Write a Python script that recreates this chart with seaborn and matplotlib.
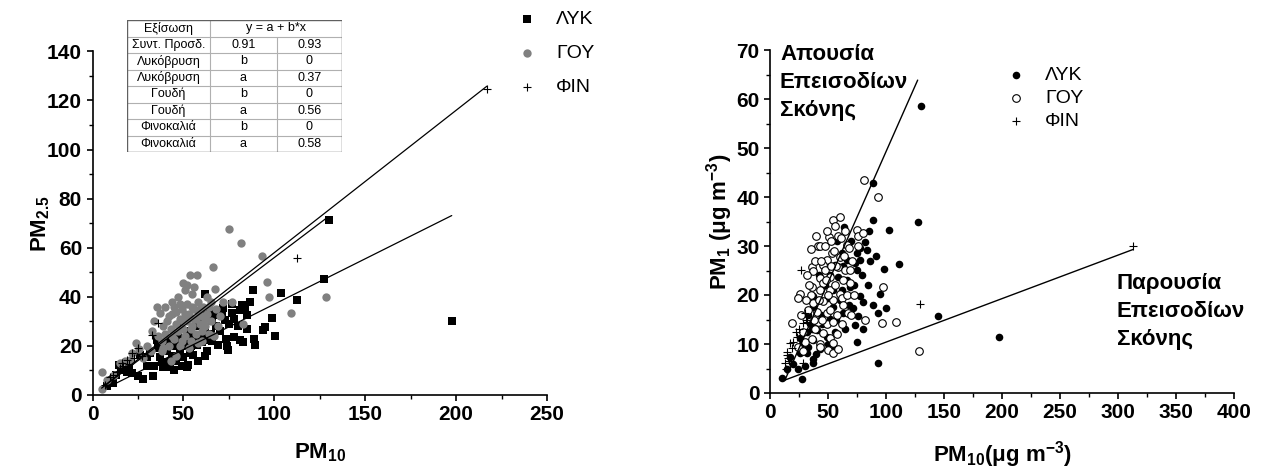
import matplotlib
matplotlib.use("Agg")
import matplotlib.pyplot as plt
import seaborn as sns
from matplotlib.ticker import MultipleLocator

# ---------------- data: left panel (PM2.5 vs PM10) ----------------
lyk_l_pm10 = [8, 10.5, 11.4, 13, 14.8, 16, 18.8, 20, 22, 25.2,
              27.9, 26.1, 29.8, 31.6, 33.5, 30, 35.3, 37.1, 38, 39,
              40.8, 42.6, 41, 44, 45, 46, 47.2, 48.1, 50, 49,
              51.8, 52.7, 53.6, 55.4, 54, 56, 57.3, 58, 62, 60,
              60.6, 61.9, 62, 63, 65, 66, 67, 68, 69.2, 69.2,
              70, 72, 72.9, 73.3, 74.7, 75, 76.6, 77.8, 78, 80,
              81.1, 81.1, 82, 82.6, 84, 84.8, 85.1, 86.6, 88.4, 88.8,
              93.6, 94.9, 98.7, 100.2, 103.7, 112.3, 127.3, 130.2, 197.6, 36,
              43, 47, 52, 55, 58, 45, 50, 62, 64, 66,
              40, 34, 57, 63, 71, 77, 53, 48, 74, 89.4]
lyk_l_pm25 = [3.5, 6.1, 4.8, 8, 12.2, 10, 9.5, 11, 9, 7.9,
              6.4, 16.3, 15.6, 17.0, 7.9, 12, 22.4, 15.6, 13.5, 11.5,
              13.6, 11.5, 18, 16, 20, 14, 21.7, 17.6, 15.6, 12,
              11.5, 12.2, 17, 16.3, 20, 24, 20.4, 14, 41, 21.7,
              23.8, 22.4, 27, 18, 25, 30, 33.3, 28, 20.4, 32.6,
              26, 35.3, 30.6, 22.7, 18.3, 29, 33.3, 23.8, 31, 28,
              34.6, 22.4, 36.7, 21.7, 34.5, 32.6, 26.9, 38.0, 42.8, 22.7,
              26.5, 27.8, 31.2, 24.0, 41.4, 38.7, 47.4, 71.3, 30.0, 19,
              22, 25, 26, 22, 30, 10, 20, 16, 33, 22,
              21, 12, 28, 35, 33, 37, 23, 28, 20, 20.5]

gou_l_pm10 = [5, 5, 8, 12, 15, 18, 20.6, 22, 23.9, 25.8,
              28, 30, 32, 35.3, 37.1, 36, 38, 39, 40, 41,
              42, 43, 44, 45, 45, 46, 47, 48, 48, 49,
              50, 50.9, 50, 51, 52, 52, 53, 53.6, 54, 55,
              55, 56, 57.3, 57, 58, 58, 59, 60, 60, 61,
              62, 62.8, 63, 64, 65, 65, 66.5, 67.5, 68, 69.2,
              70, 72, 75.3, 76.5, 81.5, 82.6, 93, 95.8, 97.1, 109.2,
              128.3, 33, 34, 38, 44, 47, 56, 40, 46, 53,
              60, 64, 67, 58, 43, 48, 55, 52, 42, 49,
              51, 54, 57, 59, 46, 44, 50, 56, 62, 39]
gou_l_pm25 = [2.4, 9.5, 6, 8, 13, 14, 14.3, 17, 21.1, 18.6,
              15, 20, 18, 35.7, 33.3, 24, 22, 28, 25, 30,
              20, 27, 33, 23, 36, 29, 26, 31, 20, 35,
              45.5, 42.8, 27, 24, 30, 37, 33, 48.9, 22, 28,
              36, 31, 48.9, 25, 34, 38, 29, 32, 22, 36,
              28, 40.1, 33, 25, 30, 38, 52.3, 43.3, 35, 28.2,
              32, 38, 67.6, 37.8, 62.1, 28.9, 56.6, 45.9, 40.1, 33.5,
              40.1, 26, 30, 18, 38, 40, 44, 36, 16, 19,
              26, 36, 24, 21, 14, 37, 41, 45, 32, 22,
              33, 27, 31, 35, 34, 24, 30, 35, 31, 19]

fin_l_pm10 = [7, 9.6, 11.4, 13.3, 15, 16, 17, 18.8, 20, 21.6,
              23, 25.2, 27, 32.6, 36.2, 112.3, 216.9]
fin_l_pm25 = [4, 7.5, 8.1, 9.5, 11, 13, 12, 14.3, 12.5, 17,
              15, 19, 16, 24.4, 29.2, 55.8, 124.5]

# fitted slopes (intercept fixed to 0), from the table
slope_lyk, slope_gou, slope_fin = 0.37, 0.56, 0.58

table_rows = [["Εξίσωση", "y = a + b*x", ""],
              ["Συντ. Προσδ.", "0.91", "0.93"],
              ["Λυκόβρυση", "b", "0"],
              ["Λυκόβρυση", "a", "0.37"],
              ["Γουδή", "b", "0"],
              ["Γουδή", "a", "0.56"],
              ["Φινοκαλιά", "b", "0"],
              ["Φινοκαλιά", "a", "0.58"]]

# ---------------- data: right panel (PM1 vs PM10) ----------------
lyk_r_pm10 = [10.6, 14.4, 24.4, 27.3, 37.4, 37.4, 17.2, 25.9, 31.6, 33,
              37.4, 48.9, 40.2, 25.9, 31.6, 56, 51.7, 54.6, 37.4, 37.4,
              41.6, 50.3, 54.6, 58.9, 63.2, 71.8, 73.3, 74.7, 77.6, 69,
              66.1, 56.3, 66.1, 61.8, 67.5, 73.3, 77.6, 74.7, 74.7, 81.9,
              83.3, 64.1, 88.5, 89.1, 102.6, 127.3, 111.5, 98.3, 84.7, 80.5,
              89, 94.8, 93.4, 100, 76.1, 145.1, 93.4, 197.7, 130.2, 45,
              43, 35, 30, 20, 47, 52, 60, 65, 70, 79,
              86, 58, 62, 68, 44, 40, 28, 33, 55, 72,
              48, 85, 91, 57, 42, 36, 63, 80, 50, 77.5]
lyk_r_pm1 = [3.0, 5, 4.8, 2.8, 6.1, 7, 7.4, 8.1, 8.1, 9.4,
             10.8, 11.5, 12.9, 11.2, 12.5, 12.5, 15.2, 17.6, 17.6, 19.7,
             19, 19.3, 21, 23.7, 16.3, 17.3, 13.9, 10.5, 19.7, 21.7,
             23.1, 26.1, 27.1, 28.5, 29.9, 26.5, 27.1, 28.5, 25.1, 30.9,
             29.2, 33.8, 35.3, 42.8, 33.3, 34.8, 26.3, 25.4, 22, 18.6,
             18, 20.3, 16.3, 17.3, 15.8, 15.7, 6.1, 11.5, 58.6, 14,
             9, 14, 5.5, 6, 22, 24, 19, 13, 31, 24,
             27, 31, 21, 18, 16, 8, 10, 16, 9, 22,
             27, 33, 28, 15, 24, 13, 26, 13, 10, 29.5]

gou_r_pm10 = [81.3, 92.8, 54.6, 56, 58.9, 50.9, 41.6, 35, 74.7, 75.5,
              66.1, 53.2, 60.3, 48.9, 45.9, 36, 37.4, 47.4, 51.7, 43.1,
              59, 64.7, 69, 45.9, 36, 43.1, 51.7, 60.3, 69, 25.9,
              24.4, 37.4, 46, 54.6, 61.8, 67.5, 40.2, 48.9, 58, 63,
              41.6, 48.9, 54.6, 45.9, 51.7, 54.6, 43.1, 50.3, 54.6, 43.1,
              18.7, 28.7, 30.2, 24.4, 28.7, 96.3, 108.6, 82.2, 97.2, 128.2,
              61.5, 67.8, 80.5, 43.1, 35.5, 39, 42, 50, 56, 63,
              38, 33, 58, 62, 66, 71, 65, 40, 47, 53,
              57, 34, 31, 45, 52, 59, 36, 48, 55, 64,
              72, 76, 70, 44, 39, 49, 60, 32, 27, 53]
gou_r_pm1 = [43.5, 39.9, 35.3, 34.1, 32, 31.8, 29.9, 29.4, 33.3, 32,
             30.2, 28.5, 27.8, 27.1, 26.1, 25.8, 24.8, 25.1, 23.7, 23.4,
             25.7, 25.1, 25.1, 22.4, 21.7, 21, 21, 20.3, 22.4, 20.3,
             19.3, 18.3, 18.7, 19, 19.3, 16.3, 16.6, 16.3, 15.9, 18,
             14.5, 14.1, 14.5, 12.2, 11.2, 10.2, 10.1, 8.8, 8.1, 9.4,
             14.2, 12.5, 10.5, 9.4, 8.5, 14.2, 14.4, 14.9, 21.6, 8.5,
             31.6, 29.6, 32.6, 29.9, 20, 27, 19, 20, 22, 23,
             15, 17, 12, 14, 20, 27, 33, 32, 30, 31,
             26, 22, 19, 15, 17, 9, 11, 23, 29, 28,
             20, 30, 16, 27, 13, 33, 36, 24, 16, 26]

fin_r_pm10 = [12.9, 14.4, 14.4, 15.8, 17.2, 18.7, 20.1, 23, 28.7, 30.2,
              31, 32, 28.7, 26.4, 129.3, 313, 13.5, 16, 22, 25]
fin_r_pm1 = [6.1, 7.8, 8.4, 7.1, 10.2, 9.2, 10.5, 11.5, 14.2, 16.3,
             15, 14.5, 6.1, 25.1, 18.1, 30, 5, 6.5, 12.5, 13]

# regression lines of the right panel: y = a + b*x over [x_start, x_end]
fit_names = ["Απουσία Επεισοδίων Σκόνης", "Παρουσία Επεισοδίων Σκόνης"]
fit_a = [-4.25, 1.5]
fit_b = [0.535, 0.0888]
fit_x_start = [12.9, 12.9]
fit_x_end = [127.3, 313.2]

# ---------------- styling ----------------
sns.set_theme(style="ticks")
plt.rcParams["font.family"] = ["Liberation Sans", "DejaVu Sans"]
plt.rcParams["mathtext.fontset"] = "custom"
plt.rcParams["mathtext.rm"] = "Liberation Sans"
plt.rcParams["mathtext.bf"] = "Liberation Sans:bold"
plt.rcParams["mathtext.it"] = "Liberation Sans:italic"
plt.rcParams["mathtext.default"] = "bf"
for k in ["text.color", "axes.labelcolor", "xtick.color", "ytick.color",
          "axes.edgecolor"]:
    plt.rcParams[k] = "black"

W, H = 1263, 470
fig = plt.figure(figsize=(W / 100, H / 100), dpi=100)

def px_axes(l, r, b, t):
    return fig.add_axes([l / W, 1 - b / H, (r - l) / W, (b - t) / H])

ax1 = px_axes(92.5, 547, 395, 51.4)
ax2 = px_axes(770, 1234, 393, 50)

def style_axis(ax, xmax, ymax, xmaj, xmin_, ymaj, ymin_):
    ax.set_xlim(0, xmax)
    ax.set_ylim(0, ymax)
    ax.xaxis.set_major_locator(MultipleLocator(xmaj))
    ax.xaxis.set_minor_locator(MultipleLocator(xmin_))
    ax.yaxis.set_major_locator(MultipleLocator(ymaj))
    ax.yaxis.set_minor_locator(MultipleLocator(ymin_))
    for s in ["top", "right"]:
        ax.spines[s].set_visible(False)
    for s in ["left", "bottom"]:
        ax.spines[s].set_linewidth(1.2)
        ax.spines[s].set_color("black")
    ax.tick_params(which="major", direction="out", length=4.5, width=1.2,
                   labelsize=15, pad=3, color="black", labelcolor="black")
    ax.tick_params(which="minor", direction="out", length=2.8, width=1.0,
                   color="black")
    for lab in ax.get_xticklabels() + ax.get_yticklabels():
        lab.set_fontweight("bold")
    ax.grid(False)

# ---------------- left panel ----------------
sns.scatterplot(x=lyk_l_pm10, y=lyk_l_pm25, marker="s", color="black", s=30,
                linewidth=0, ax=ax1, label="ΛΥΚ", zorder=3)
sns.scatterplot(x=gou_l_pm10, y=gou_l_pm25, marker="o", color="#808080", s=36,
                linewidth=0, ax=ax1, label="ΓΟΥ", zorder=3)
sns.scatterplot(x=fin_l_pm10, y=fin_l_pm25, marker="+", color="black", s=40,
                linewidth=0.8, ax=ax1, label="ΦΙΝ", zorder=4)

for xs, k in [(lyk_l_pm10, slope_lyk), (gou_l_pm10, slope_gou), (fin_l_pm10, slope_fin)]:
    x0, x1 = min(xs), max(xs)
    ax1.plot([x0, x1], [k * x0, k * x1], color="black", lw=0.9, zorder=5,
             label="_nolegend_")

style_axis(ax1, 250, 140, 50, 25, 20, 10)
ax1.set_xlabel("PM$_{10}$", fontsize=16, fontweight="bold")
ax1.set_ylabel("PM$_{2.5}$", fontsize=16, fontweight="bold")
ax1.xaxis.set_label_coords(0.5, -0.135)
ax1.yaxis.set_label_coords(-0.09, 0.5)

ax1.legend(loc="upper left", bbox_to_anchor=(517 / W, 1 - 10 / H),
           bbox_transform=fig.transFigure, frameon=False, fontsize=14,
           handlelength=1.0, handletextpad=1.0, labelspacing=0.85,
           borderpad=0, borderaxespad=0, markerscale=1.0)

# table
tx = fig.add_axes([127 / W, 1 - 152 / H, 215 / W, 132 / H])
tx.set_xlim(0, 1)
tx.set_ylim(0, 1)
tx.axis("off")
cols = [0, 83 / 215, 150 / 215, 1]
nrow = len(table_rows)
rh = 1 / nrow
for i in range(1, nrow):
    tx.plot([0, 1], [1 - i * rh] * 2, color="#b0b0b0", lw=0.8)
tx.plot([cols[1]] * 2, [0, 1], color="#b0b0b0", lw=0.8)
tx.plot([cols[2]] * 2, [0, 1 - rh], color="#b0b0b0", lw=0.8)
tx.plot([0, 1, 1, 0, 0], [0, 0, 1, 1, 0], color="#606060", lw=1.0)
for i, row in enumerate(table_rows):
    yc = 1 - (i + 0.5) * rh
    if i == 0:
        tx.text((cols[0] + cols[1]) / 2, yc, row[0], ha="center", va="center", fontsize=9)
        tx.text((cols[1] + cols[3]) / 2, yc, row[1], ha="center", va="center", fontsize=9)
    else:
        for j in range(3):
            tx.text((cols[j] + cols[j + 1]) / 2, yc, row[j], ha="center",
                    va="center", fontsize=9)

# ---------------- right panel ----------------
sns.scatterplot(x=lyk_r_pm10, y=lyk_r_pm1, marker="o", color="black", s=30,
                linewidth=0, ax=ax2, label="ΛΥΚ", zorder=3)
sns.scatterplot(x=gou_r_pm10, y=gou_r_pm1, marker="o", facecolor="white",
                edgecolor="black", s=30, linewidth=0.8, ax=ax2, label="ΓΟΥ", zorder=3)
sns.scatterplot(x=fin_r_pm10, y=fin_r_pm1, marker="+", color="black", s=40,
                linewidth=0.8, ax=ax2, label="ΦΙΝ", zorder=4)

for a, b, xs0, xs1 in zip(fit_a, fit_b, fit_x_start, fit_x_end):
    ax2.plot([xs0, xs1], [a + b * xs0, a + b * xs1], color="black", lw=1.0,
             zorder=5, label="_nolegend_")

style_axis(ax2, 400, 70, 50, 25, 10, 5)
ax2.set_xlabel("PM$_{10}$(μg m$^{-3}$)", fontsize=16, fontweight="bold")
ax2.set_ylabel("PM$_{1}$ (μg m$^{-3}$)", fontsize=16, fontweight="bold")
ax2.xaxis.set_label_coords(0.5, -0.135)
ax2.yaxis.set_label_coords(-0.075, 0.5)

ax2.legend(loc="upper left", bbox_to_anchor=(1006 / W, 1 - 66 / H),
           bbox_transform=fig.transFigure, frameon=False, fontsize=14,
           handlelength=1.0, handletextpad=1.0, labelspacing=0.3,
           borderpad=0, borderaxespad=0)

fig.text(780 / W, 1 - 44 / H, "Απουσία\nΕπεισοδίων\nΣκόνης", fontsize=16,
         fontweight="bold", ha="left", va="top", linespacing=1.45)
fig.text(1117 / W, 1 - 273 / H, "Παρουσία\nΕπεισοδίων\nΣκόνης", fontsize=16,
         fontweight="bold", ha="left", va="top", linespacing=1.45)

fig.savefig("out.png", dpi=100)
